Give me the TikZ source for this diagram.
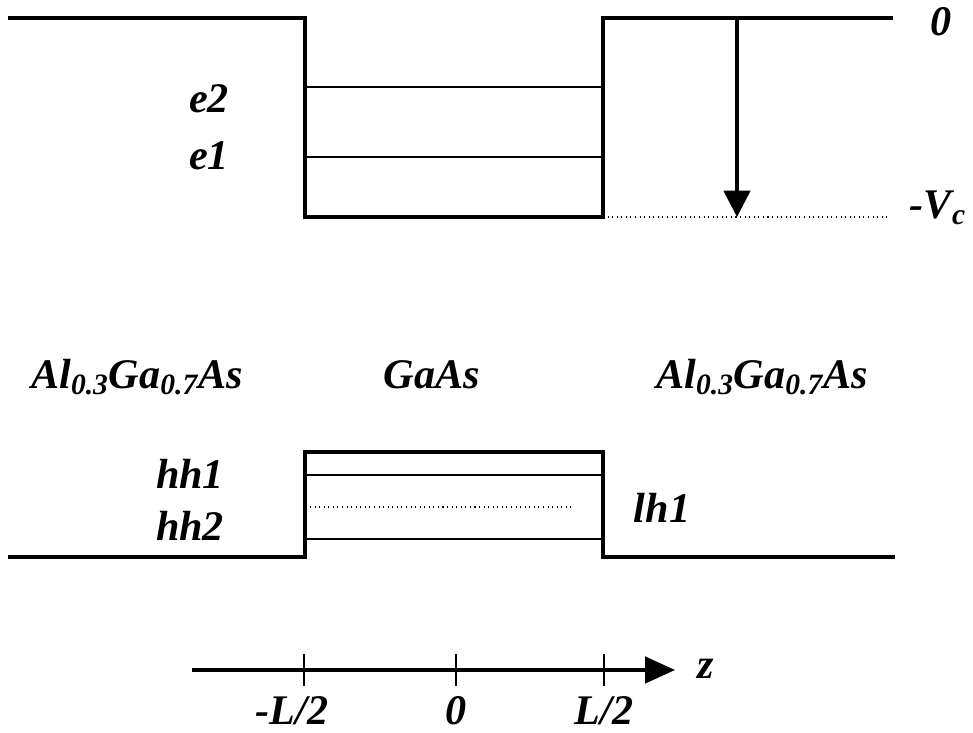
\documentclass[tikz,border=0pt]{standalone}
\usepackage{fontspec}
\setmainfont{Liberation Serif}
\usetikzlibrary{arrows.meta,positioning}

\begin{document}
\begin{tikzpicture}[
    x=0.02cm, y=-0.02cm,
    band/.style={line width=2.2pt, line join=miter},
    level/.style={line width=0.8pt},
    dotline/.style={line width=0.6pt, dotted},
    lbl/.style={font=\fontsize{24}{28}\selectfont\bfseries\itshape, inner sep=0pt, anchor=base},
    arrow/.style={-{Triangle[length=15pt,width=15pt]}, line width=2pt}
]
    \useasboundingbox (0,0) rectangle (973,733);

    % Leitungsband
    \coordinate (cl) at (8,18);
    \coordinate (ctl) at (305,18);
    \coordinate (cbl) at (305,217);
    \coordinate (cbr) at (603,217);
    \coordinate (ctr) at (603,18);
    \coordinate (cr) at (893,18);
    \draw[band] (cl) -- (ctl) -- (cbl) -- (cbr) -- (ctr) -- (cr);
    \draw[level] (305,87) -- (603,87);
    \draw[level] (305,157) -- (603,157);
    \coordinate (vtop) at (737,18);
    \coordinate (vbot) at (737,217);
    \coordinate (vend) at (890,217);
    \draw[dotline] (cbr) -- (vend);
    \draw[arrow] (vtop) -- (vbot);

    \node[lbl] (zero) at (941,36) {0};
    \node[lbl] (vc) at (938,218) {-V\textsubscript{c}};
    \node[lbl] (e2) at (209,113) {e2};
    \node[lbl] (e1) at (209,170) {e1};

    % Materialien
    \node[lbl] (alL) at (137,388) {Al\textsubscript{0.3}Ga\textsubscript{0.7}As};
    \node[lbl] (gaas) at (432,388) {GaAs};
    \node[lbl] (alR) at (762,388) {Al\textsubscript{0.3}Ga\textsubscript{0.7}As};

    % Valenzband
    \coordinate (vl) at (8,557);
    \coordinate (vbl) at (305,557);
    \coordinate (vtl) at (305,452);
    \coordinate (vtr) at (603,452);
    \coordinate (vbr) at (603,557);
    \coordinate (vr) at (895,557);
    \draw[band] (vl) -- (vbl) -- (vtl) -- (vtr) -- (vbr) -- (vr);
    \draw[level] (305,475) -- (603,475);
    \draw[level] (305,539) -- (603,539);
    \draw[dotline] (310,507) -- (572,507);

    \node[lbl] (hh1) at (190,488) {hh1};
    \node[lbl] (hh2) at (190,540) {hh2};
    \node[lbl] (lh1) at (662,522) {lh1};

    % z-Achse
    \coordinate (za) at (192,670);
    \coordinate (zb) at (675,670);
    \draw[-{Triangle[length=17pt,width=15pt]}, line width=1.8pt] (za) -- (zb);
    \foreach \xx in {304,456,604}
        \draw[line width=1.2pt] (\xx,654) -- (\xx,686);
    \node[lbl] (z) at (706,678) {z};
    \node[lbl] (mL) at (292,724) {-L/2};
    \node[lbl] (nul) at (456,724) {0};
    \node[lbl] (pL) at (604,724) {L/2};
\end{tikzpicture}
\end{document}
